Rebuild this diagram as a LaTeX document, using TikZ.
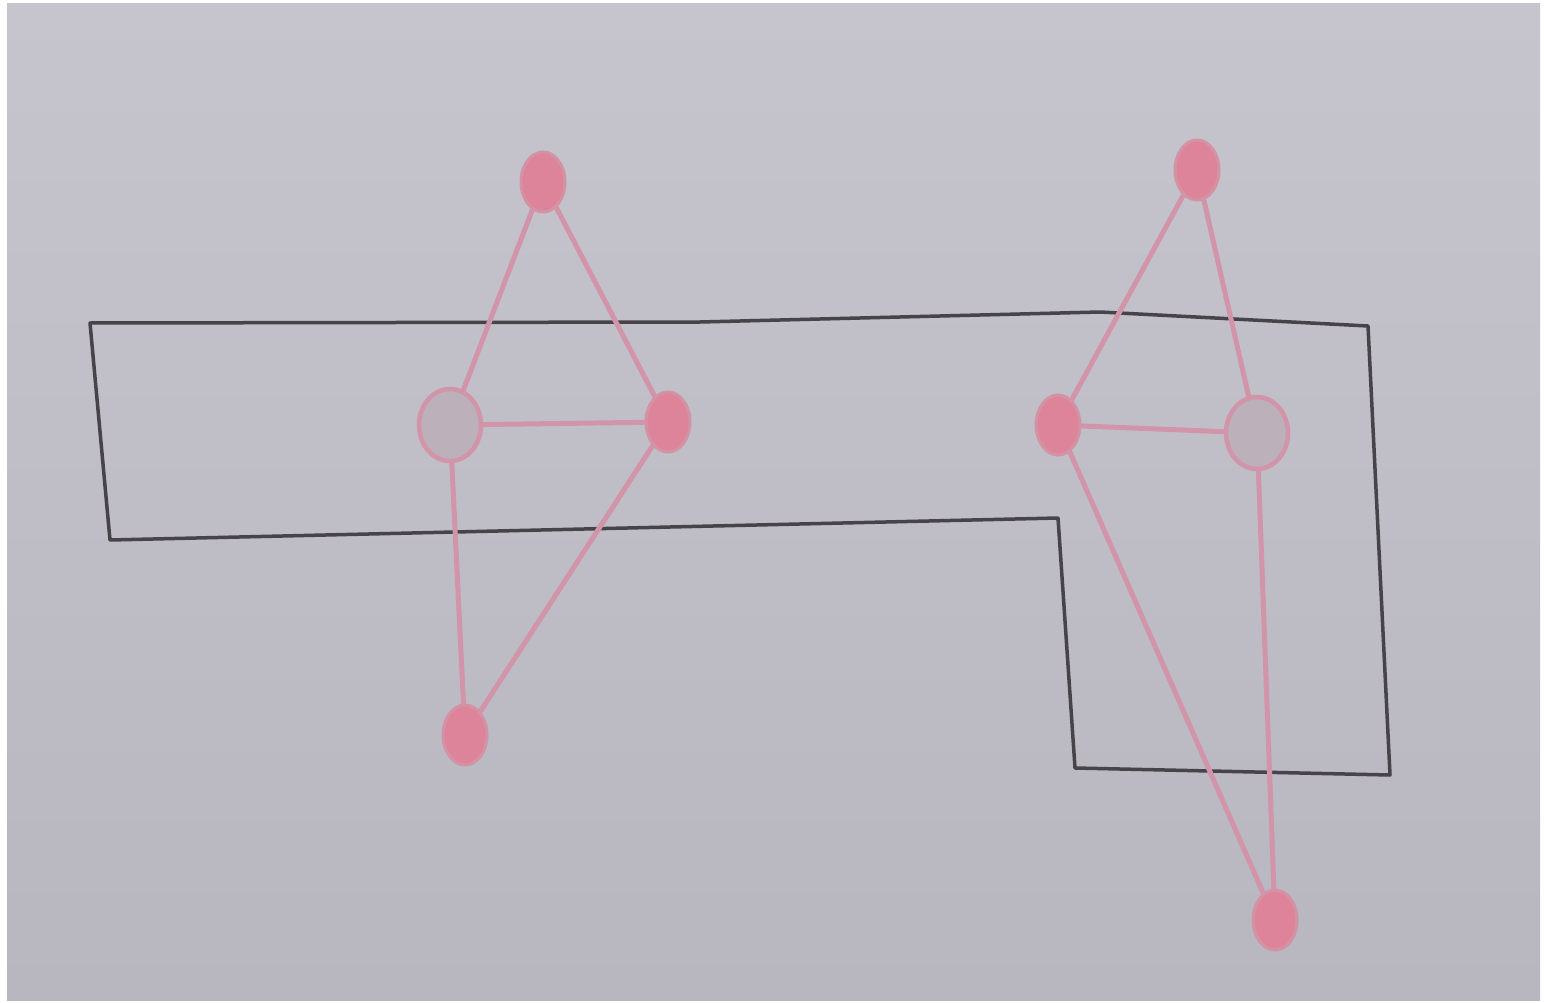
\documentclass[tikz,border=0pt]{standalone}
\usetikzlibrary{shapes.geometric}
\definecolor{paper}{RGB}{184,182,190}
\definecolor{paperlight}{RGB}{198,197,205}
\definecolor{pencil}{RGB}{70,68,72}
\definecolor{pinkfill}{RGB}{222,132,154}
\definecolor{pinkline}{RGB}{210,148,168}
\tikzset{
  vfill/.style={ellipse, minimum width=44pt, minimum height=60pt, inner sep=0pt, fill=pinkfill, draw=pinkfill!70!paper, line width=3pt},
  vhollow/.style={ellipse, minimum width=62pt, minimum height=72pt, inner sep=0pt, draw=pinkline, fill=pinkline!15!paper, line width=4.5pt},
  pedge/.style={draw=pinkline, line width=5pt, line cap=round},
  outline/.style={draw=pencil, line width=3.5pt, line join=round}
}
\begin{document}
\begin{tikzpicture}[x=1pt,y=-1pt]
\fill[white] (0,0) rectangle (1544,1003);
\shade[top color=paperlight, bottom color=paper] (7,4) rectangle (1540,1000);
% pencil outline
\draw[outline] (90,323) -- (700,322) -- (1100,312) -- (1368,326) -- (1390,775) -- (1075,768) -- (1058,518) -- (110,540) -- cycle;
% left graph
\node[vhollow] (b) at (450,425) {};
\node[vfill] (a) at (543,182) {};
\node[vfill] (c) at (668,422) {};
\node[vfill] (d) at (465,735) {};
\draw[pedge] (a) -- (b);
\draw[pedge] (a) -- (c);
\draw[pedge] (b) -- (c);
\draw[pedge] (b) -- (d);
\draw[pedge] (c) -- (d);
% right graph
\node[vhollow] (g) at (1257,433) {};
\node[vfill] (e) at (1197,170) {};
\node[vfill] (f) at (1058,425) {};
\node[vfill] (h) at (1275,920) {};
\draw[pedge] (e) -- (f);
\draw[pedge] (e) -- (g);
\draw[pedge] (f) -- (g);
\draw[pedge] (f) -- (h);
\draw[pedge] (g) -- (h);
\end{tikzpicture}
\end{document}
